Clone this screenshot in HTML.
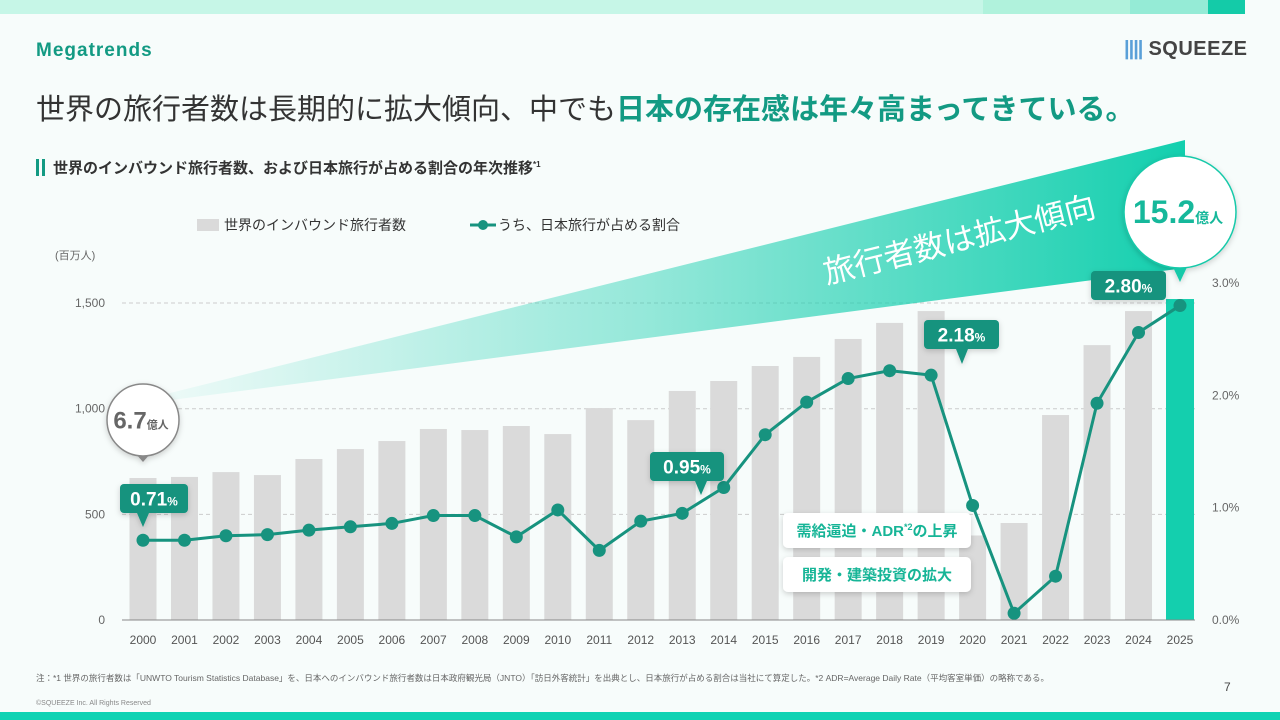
<!DOCTYPE html>
<html><head><meta charset="utf-8">
<style>
*{margin:0;padding:0;box-sizing:border-box}
body{width:1280px;height:720px;overflow:hidden;background:#f7fcfb;font-family:"Liberation Sans","Noto Sans CJK JP",sans-serif;position:relative;color:#333}
.abs{position:absolute}
</style></head><body>
<div class="abs" style="left:0;top:0;width:1245px;height:14px;background:#c6f6e7"></div>
<div class="abs" style="left:983px;top:0;width:147px;height:14px;background:#b0f2dc"></div>
<div class="abs" style="left:1130px;top:0;width:78px;height:14px;background:#95ebd6"></div>
<div class="abs" style="left:1208px;top:0;width:37px;height:14px;background:#14cba8"></div>
<div class="abs" style="left:0;top:712px;width:1280px;height:8px;background:#0fd3b4"></div>

<div class="abs" style="left:36px;top:40px;font-size:19px;font-weight:bold;color:#139a83;letter-spacing:1px">Megatrends</div>
<div class="abs" style="left:1124px;top:38px;font-size:20px;font-weight:bold;color:#444;letter-spacing:0.5px"><span style="color:#5aa0d8;letter-spacing:-1px">||||</span> SQUEEZE</div>
<div class="abs" style="left:36px;top:86px;font-size:29px;color:#333;white-space:nowrap">世界の旅行者数は長期的に拡大傾向、中でも<b style="color:#139a83">日本の存在感は年々高まってきている。</b></div>
<div class="abs" style="left:36px;top:157px;font-size:15px;font-weight:bold;color:#333;white-space:nowrap"><span style="display:inline-block;width:3px;height:17px;background:#139a83;vertical-align:-3px"></span><span style="display:inline-block;width:3px;height:17px;background:#139a83;vertical-align:-3px;margin-left:3px;margin-right:8px"></span>世界のインバウンド旅行者数、および日本旅行が占める割合の年次推移<sup style="font-size:8px">*1</sup></div>

<svg class="abs" style="left:0;top:0" width="1280" height="720" id="chart">
<defs>
<linearGradient id="wg" x1="0" x2="1" y1="0" y2="0">
<stop offset="0" stop-color="#1ccfb0" stop-opacity="0"/>
<stop offset="0.5" stop-color="#1ccfb0" stop-opacity="0.45"/>
<stop offset="1" stop-color="#12cfae"/>
</linearGradient>
<filter id="sh" x="-30%" y="-30%" width="160%" height="160%"><feDropShadow dx="0" dy="2" stdDeviation="3" flood-opacity="0.18"/></filter>
</defs>
<g id="grid"></g>
<g id="bars"></g>
<polygon points="110,408 1185,140 1185,268" fill="url(#wg)"/>
<text transform="translate(962,250) rotate(-14)" text-anchor="middle" font-size="31" fill="#fff" font-family="Liberation Sans,Noto Sans CJK JP,sans-serif">旅行者数は拡大傾向</text>
<g id="line"></g>
<g id="axes"></g>
<g id="ann"></g>
</svg>

<div class="abs" style="left:36px;top:672px;font-size:8.5px;color:#666;white-space:nowrap">注：*1 世界の旅行者数は「UNWTO Tourism Statistics Database」を、日本へのインバウンド旅行者数は日本政府観光局（JNTO）「訪日外客統計」を出典とし、日本旅行が占める割合は当社にて算定した。*2 ADR=Average Daily Rate（平均客室単価）の略称である。</div>
<div class="abs" style="left:36px;top:700px;font-size:7px;color:#888">©SQUEEZE Inc. All Rights Reserved</div>
<div class="abs" style="left:1224px;top:680px;font-size:12px;color:#444">7</div>

<script>
const years=[2000,2001,2002,2003,2004,2005,2006,2007,2008,2009,2010,2011,2012,2013,2014,2015,2016,2017,2018,2019,2020,2021,2022,2023,2024,2025];
const travelers=[672,677,700,686,762,809,847,904,899,918,880,1003,946,1084,1131,1202,1245,1330,1406,1462,400,459,970,1301,1462,1519];
const japanShare=[0.71,0.71,0.75,0.76,0.80,0.83,0.86,0.93,0.93,0.74,0.98,0.62,0.88,0.95,1.18,1.65,1.94,2.15,2.22,2.18,1.02,0.06,0.39,1.93,2.56,2.80];
const leftTicks=[0,500,1000,1500];
const leftTickLabels=["0","500","1,000","1,500"];
const rightTicks=[0,1,2,3];
const rightTickLabels=["0.0%","1.0%","2.0%","3.0%"];

const NS="http://www.w3.org/2000/svg";
const x0=143,step=(1180-143)/25,base=620;
const X=i=>x0+i*step;
const YL=v=>base-v*0.2113;
const YR=p=>base-p*112.3;
function mk(tag,attrs,parent,txt){const e=document.createElementNS(NS,tag);for(const k in attrs)e.setAttribute(k,attrs[k]);if(txt!==undefined)e.textContent=txt;document.getElementById(parent).appendChild(e);return e;}
const F="Liberation Sans,Noto Sans CJK JP,sans-serif";

leftTicks.forEach((v,i)=>{
  if(v>0){const g=mk('line',{x1:122,x2:1195,y1:YL(v),y2:YL(v),stroke:'#ccc','stroke-dasharray':'4 3'},'grid');
  
  }
  const t=mk('text',{x:105,y:YL(v)+4,'text-anchor':'end','font-size':12,fill:'#666','font-family':F},'axes',leftTickLabels[i]);
  
  
});
rightTicks.forEach((p,i)=>{
  const t=mk('text',{x:1212,y:YR(p)+4,'font-size':12,fill:'#666','font-family':F},'axes',rightTickLabels[i]);
  
  
});
const u=mk('text',{x:55,y:259,'font-size':11,fill:'#666','font-family':F},'axes','(百万人)');



years.forEach((y,i)=>{
  const last=i===years.length-1;
  const w=last?28:27;
  const r=mk('rect',{x:X(i)-w/2,y:YL(travelers[i]),width:w,height:base-YL(travelers[i]),fill:last?'#14cfae':'#dadada'},'bars');
  
  
  const t=mk('text',{x:X(i),y:644,'text-anchor':'middle','font-size':12,fill:'#555','font-family':F},'axes',String(y));
  
  
});
const ax=mk('line',{x1:122,x2:1195,y1:base,y2:base,stroke:'#888','stroke-width':1},'axes');



const pl=mk('polyline',{points:japanShare.map((p,i)=>X(i)+','+YR(p)).join(' '),fill:'none',stroke:'#17937f','stroke-width':3},'line');


japanShare.forEach((p,i)=>{
  const c=mk('circle',{cx:X(i),cy:YR(p),r:6.5,fill:'#17937f'},'line');
  
  
});

// legend
const lg1=mk('rect',{x:197,y:219,width:22,height:12,fill:'#dadada'},'axes');


const lt1=mk('text',{x:224,y:230,'font-size':14,fill:'#333','font-family':F},'axes','世界のインバウンド旅行者数');


const lg2=mk('line',{x1:470,x2:496,y1:225,y2:225,stroke:'#17937f','stroke-width':3},'axes');


mk('circle',{cx:483,cy:225,r:5,fill:'#17937f'},'axes');
const lt2=mk('text',{x:498,y:230,'font-size':14,fill:'#333','font-family':F},'axes','うち、日本旅行が占める割合');



// value callouts
function callout(name,x,y,w,h,px,py,val){
  const g=mk('g',{filter:'url(#sh)'},'ann');
  
  
  const r=document.createElementNS(NS,'rect');
  [['x',x],['y',y],['width',w],['height',h],['rx',4],['fill','#12937e']].forEach(a=>r.setAttribute(a[0],a[1]));g.appendChild(r);
  const t=document.createElementNS(NS,'polygon');t.setAttribute('points',(px-6)+','+(y+h)+' '+(px+6)+','+(y+h)+' '+px+','+py);t.setAttribute('fill','#12937e');g.appendChild(t);
  const tx=document.createElementNS(NS,'text');
  [['x',x+w/2],['y',y+h/2+7],['text-anchor','middle'],['font-size',19],['font-weight','bold'],['fill','#fff'],['font-family',F]].forEach(a=>tx.setAttribute(a[0],a[1]));
  tx.innerHTML=val+'<tspan font-size="12">%</tspan>';g.appendChild(tx);
}
callout('callout-2000',120,484,68,29,143,527,'0.71');
callout('callout-2013',650,452,74,29,701,495,'0.95');
callout('callout-2019',924,320,75,29,962,364,'2.18');
callout('callout-2025',1091,271,75,29,1166,300,'2.80');

// bubbles
function bubble(name,cx,cy,r,stroke,big,col,fs,tipY){
  const g=mk('g',{filter:'url(#sh)'},'ann');
  
  
  const t=document.createElementNS(NS,'polygon');t.setAttribute('points',(cx-8)+','+(cy+r-3)+' '+(cx+8)+','+(cy+r-3)+' '+cx+','+tipY);t.setAttribute('fill',stroke);g.appendChild(t);
  const c=document.createElementNS(NS,'circle');
  [['cx',cx],['cy',cy],['r',r],['fill','#fff'],['stroke',stroke],['stroke-width',1.5]].forEach(a=>c.setAttribute(a[0],a[1]));g.appendChild(c);
  const tx=document.createElementNS(NS,'text');
  [['x',cx-2],['y',cy+fs*0.35],['text-anchor','middle'],['font-size',fs],['font-weight','bold'],['fill',col],['font-family',F]].forEach(a=>tx.setAttribute(a[0],a[1]));
  tx.innerHTML=big+'<tspan font-size="'+Math.round(fs*0.45)+'">億人</tspan>';g.appendChild(tx);
}
bubble('bubble-2000',143,420,36,'#888','6.7','#666',24,462);
bubble('bubble-2025',1180,212,56,'#17c9a9','15.2','#17b89b',32,282);

// text boxes
function tbox(name,y,txt){
  const g=mk('g',{filter:'url(#sh)'},'ann');
  
  
  const r=document.createElementNS(NS,'rect');
  [['x',783],['y',y],['width',188],['height',35],['rx',5],['fill','#fff']].forEach(a=>r.setAttribute(a[0],a[1]));g.appendChild(r);
  const tx=document.createElementNS(NS,'text');
  [['x',877],['y',y+23],['text-anchor','middle'],['font-size',15],['font-weight','bold'],['fill','#19b597'],['font-family',F]].forEach(a=>tx.setAttribute(a[0],a[1]));
  tx.innerHTML=txt;g.appendChild(tx);
}
tbox('driver-adr',513,'需給逼迫・ADR<tspan font-size="9" dy="-6">*2</tspan><tspan dy="6">の上昇</tspan>');
tbox('driver-investment',557,'開発・建築投資の拡大');
</script>
</body></html>
